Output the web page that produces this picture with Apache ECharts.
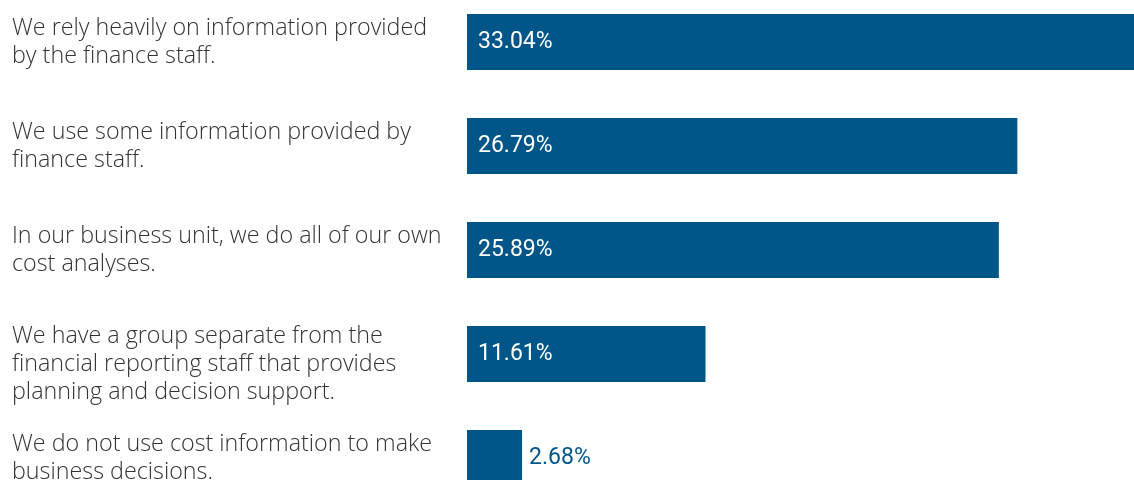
<!DOCTYPE html>
<html>
<head>
<meta charset="utf-8">
<script src="https://cdn.jsdelivr.net/npm/echarts@6/dist/echarts.min.js"></script>
<style>html,body{margin:0;padding:0;background:#fff}#c{width:1134px;height:480px}</style>
</head>
<body>
<div id="c"></div>
<script>
var categories = [
  "We rely heavily on information provided\nby the finance staff.",
  "We use some information provided by\nfinance staff.",
  "In our business unit, we do all of our own\ncost analyses.",
  "We have a group separate from the\nfinancial reporting staff that provides\nplanning and decision support.",
  "We do not use cost information to make\nbusiness decisions."
];
var values = [33.04, 26.79, 25.89, 11.61, 2.68];

var BAR = '#005689';
var chart = echarts.init(document.getElementById('c'), null, {renderer: 'canvas'});
var seriesData = values.map(function (v) {
  var d = {value: v};
  if (v < 5) {
    d.label = {position: 'right', distance: 7, color: BAR};
  }
  return d;
});
chart.setOption({
  animation: false,
  grid: {left: 467, right: -52, top: -10, bottom: -30, outerBoundsMode: 'none', containLabel: false},
  xAxis: {type: 'value', min: 0, max: 35, show: false},
  yAxis: {
    type: 'category', inverse: true, data: categories,
    axisLine: {show: false}, axisTick: {show: false}, splitLine: {show: false},
    axisLabel: {
      margin: 455, align: 'left', color: '#333333',
      fontFamily: 'Open Sans', fontWeight: 300, fontSize: 23.3, lineHeight: 28,
      formatter: function (val, idx) {
        var lines = val.split('\n');
        if (lines.length > 2) {
          return '{s| }\n' + lines.map(function (l) { return '{p|' + l + '}'; }).join('\n');
        }
        return val;
      },
      rich: {
        s: {lineHeight: 20, fontSize: 10},
        p: {lineHeight: 28}
      }
    }
  },
  series: [{
    type: 'bar', data: seriesData, barWidth: 56,
    itemStyle: {color: BAR},
    label: {
      show: true, position: 'insideLeft', distance: 11,
      color: '#ffffff', fontFamily: 'Roboto', fontSize: 23,
      formatter: function (p) { return p.value.toFixed(2) + '%'; }
    }
  }]
});
</script>
</body>
</html>
